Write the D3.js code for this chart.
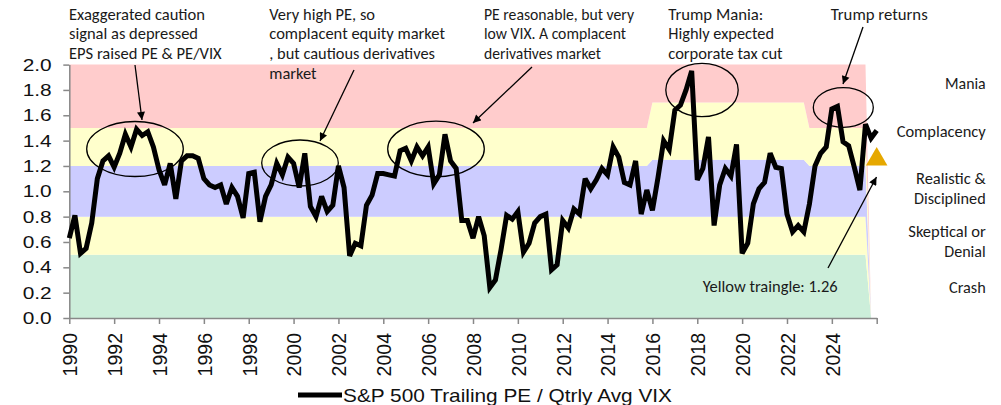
<!DOCTYPE html>
<html><head><meta charset="utf-8">
<script src="https://cdn.jsdelivr.net/npm/d3@7"></script>
<style>body{margin:0;background:#fff}svg{display:block}</style>
</head><body>
<svg id="c" width="1001" height="405"></svg>
<script>
// ---------- DATA ----------
const startYear = 1990;            // first quarter of the series
const quartersPerYear = 4;
const seriesName = "S&P 500 Trailing PE / Qtrly Avg VIX";
const peVix = [
  0.63,0.81,0.51,0.55,0.75,1.10,1.24,1.28,1.19,1.30,
  1.45,1.35,1.49,1.44,1.47,1.35,1.17,1.05,1.22,0.94,
  1.24,1.28,1.28,1.26,1.10,1.05,1.03,1.05,0.90,1.03,
  0.96,0.79,1.14,1.15,0.76,0.96,1.05,1.22,1.13,1.27,
  1.22,1.03,1.30,0.88,0.80,0.96,0.84,0.89,1.20,1.03,
  0.49,0.59,0.57,0.89,0.97,1.14,1.14,1.13,1.12,1.32,
  1.34,1.24,1.35,1.28,1.35,1.06,1.13,1.45,1.24,1.18,
  0.77,0.77,0.63,0.80,0.65,0.24,0.30,0.54,0.81,0.78,
  0.84,0.52,0.59,0.75,0.80,0.82,0.38,0.42,0.77,0.71,
  0.86,0.82,1.10,1.02,1.09,1.18,1.13,1.35,1.27,1.07,
  1.05,1.24,0.82,1.01,0.85,1.11,1.40,1.33,1.64,1.68,
  1.80,1.95,1.09,1.18,1.43,0.73,1.05,1.18,1.12,1.37,
  0.51,0.59,0.90,1.02,1.07,1.30,1.19,1.18,0.82,0.68,
  0.73,0.68,0.90,1.20,1.30,1.35,1.65,1.67,1.39,1.36,
  1.19,1.01,1.53,1.42,1.48
];
const yellowTriangle = 1.26;

// regime bands (upper bound of each band), per regime of quarters
const bandNames = ["Crash","Skeptical or Denial","Realistic & Disciplined","Complacency","Mania"];
const regimeFirstQuarter = [0, 104, 132, 143];
const regimeLastQuarter  = [103, 131, 142, 143];
const crashTop       = [0.5, 0.5, 0.5, 0];
const skepticalTop   = [0.8, 0.8, 0.8, 0];
const realisticTop   = [1.2, 1.25, 1.2, 0];
const complacencyTop = [1.5, 1.7, 1.5, 0];
const maniaTop       = [2.0, 2.0, 2.0, 0];

const yTicks = [0,0.2,0.4,0.6,0.8,1.0,1.2,1.4,1.6,1.8,2.0];
const xTickYears = d3.range(1990, 2027, 2);
const xLabelYears = d3.range(1990, 2025, 2);

// ---------- LAYOUT / STYLE ----------
const bandColors = ["#CCEEDA","#FFFFCC","#CCCCFF","#FFFFCC","#FFCCCC"];
const svg = d3.select("#c");
const x = d3.scaleLinear().domain([1990, 2026]).range([69.3, 876.7]);
const y = d3.scaleLinear().domain([0, 2]).range([318, 64.6]);
const qYear = q => startYear + q / quartersPerYear;
const annFont = "Carlito, Calibri, Lato, sans-serif";
const axFont = "'Liberation Sans', Arial, sans-serif";

// band rows
const bandRows = [];
for (let r = 0; r < regimeFirstQuarter.length; r++) {
  for (let q = regimeFirstQuarter[r]; q <= regimeLastQuarter[r]; q++) {
    const tops = [crashTop[r], skepticalTop[r], realisticTop[r], complacencyTop[r], maniaTop[r]];
    const row = {q};
    bandNames.forEach((n, k) => row[n] = tops[k] - (k ? tops[k-1] : 0));
    bandRows.push(row);
  }
}
const stacked = d3.stack().keys(bandNames)(bandRows);
const area = d3.area().x(d => x(qYear(d.data.q))).y0(d => y(d[0])).y1(d => y(d[1]));
svg.append("g").selectAll("path").data(stacked).join("path")
  .attr("d", area).attr("fill", (d, i) => bandColors[i]);

// axes
const gy = svg.append("g").attr("transform", `translate(${x(1990)},0)`)
  .call(d3.axisLeft(y).tickValues(yTicks).tickFormat(d3.format(".1f")).tickSize(6).tickSizeOuter(0));
gy.select(".domain").attr("stroke", "#888").attr("stroke-width", 1.5);
gy.selectAll(".tick line").attr("stroke", "#888").attr("stroke-width", 1.5);
gy.selectAll(".tick text").attr("x", -17.6).attr("dy", "0.33em")
  .attr("font-family", axFont).attr("font-size", 17).attr("fill", "#111")
  .attr("textLength", 29).attr("lengthAdjust", "spacingAndGlyphs");

const gx = svg.append("g").attr("transform", `translate(0,${y(0)})`)
  .call(d3.axisBottom(x).tickValues(xTickYears).tickFormat(d => xLabelYears.includes(d) ? String(d) : "")
    .tickSize(6).tickSizeOuter(0));
gx.select(".domain").attr("stroke", "#888").attr("stroke-width", 1.5);
gx.selectAll(".tick line").attr("stroke", "#888").attr("stroke-width", 1.5);
gx.selectAll(".tick text").attr("transform", "rotate(-90)").attr("text-anchor", "end")
  .attr("x", -15).attr("y", 0).attr("dy", "0.38em")
  .attr("font-family", axFont).attr("font-size", 19.5).attr("fill", "#111");

// series line
const line = d3.line().x((d, i) => x(qYear(i))).y(d => y(d));
svg.append("path").datum(peVix).attr("d", line).attr("fill", "none")
  .attr("stroke", "#000").attr("stroke-width", 5).attr("stroke-linejoin", "miter").attr("stroke-miterlimit", 3);

// yellow triangle at latest quarter
const lastQ = peVix.length - 1;
svg.append("path").attr("d", d3.symbol().type(d3.symbolTriangle).size(200)())
  .attr("transform", `translate(${x(qYear(lastQ))},${y(yellowTriangle) + 1})`)
  .attr("fill", "#E6A800");

// arrow marker
const defs = svg.append("defs");
defs.append("marker").attr("id", "ah").attr("viewBox", "0 0 10 10").attr("refX", 10).attr("refY", 5)
  .attr("markerWidth", 9).attr("markerHeight", 8).attr("markerUnits", "userSpaceOnUse").attr("orient", "auto")
  .append("path").attr("d", "M0,0 L10,5 L0,10 z").attr("fill", "#000");

// ellipses
const ellipses = [
  {cx:135, cy:149, rx:48.3, ry:27.5},
  {cx:300, cy:163, rx:38.3, ry:23},
  {cx:436, cy:149, rx:48.3, ry:27.8},
  {cx:702, cy:90, rx:36.2, ry:26.7},
  {cx:843.3, cy:107.5, rx:30, ry:19.8}
];
svg.append("g").selectAll("ellipse").data(ellipses).join("ellipse")
  .attr("cx", d => d.cx).attr("cy", d => d.cy).attr("rx", d => d.rx).attr("ry", d => d.ry)
  .attr("fill", "none").attr("stroke", "#000").attr("stroke-width", 1.3);

// arrows
const arrows = [
  [135, 65, 142, 120],
  [354, 70, 320, 141],
  [532, 67, 473, 123],
  [863, 27, 843, 84],
  [828, 268, 876.5, 177]
];
svg.append("g").selectAll("line").data(arrows).join("line")
  .attr("x1", d => d[0]).attr("y1", d => d[1]).attr("x2", d => d[2]).attr("y2", d => d[3])
  .attr("stroke", "#000").attr("stroke-width", 1.3).attr("marker-end", "url(#ah)");

// annotation text
const notes = [
  {x:69,    lines:["Exaggerated caution","signal as depressed","EPS raised PE & PE/VIX"], w:[136,129,152.7]},
  {x:269.3, lines:["Very high PE, so","complacent equity market",", but cautious derivatives","market"], w:[105.7,175.7,165.7,47.3]},
  {x:484,   lines:["PE reasonable, but very","low VIX. A complacent","derivatives market"], w:[150,142,117]},
  {x:668.3, lines:["Trump Mania:","Highly expected","corporate tax cut"], w:[95,105.7,114.3]},
  {x:830.7, lines:["Trump returns"], w:[97]}
];
const noteBase = [19.5, 39.3, 59, 79];
notes.forEach(n => n.lines.forEach((t, i) => {
  svg.append("text").attr("x", n.x).attr("y", noteBase[i]).text(t)
    .attr("font-family", annFont).attr("font-size", 16).attr("fill", "#1a1a1a")
    .attr("textLength", n.w[i]).attr("lengthAdjust", "spacingAndGlyphs");
}));

const sideLabels = [
  {t:"Mania", y:89, w:40.7},
  {t:"Complacency", y:137, w:89},
  {t:"Realistic &", y:184, w:69.7},
  {t:"Disciplined", y:204, w:71.7},
  {t:"Skeptical or", y:236.7, w:77.4},
  {t:"Denial", y:256.7, w:41.4},
  {t:"Crash", y:293.3, w:36.7}
];
sideLabels.forEach(s => svg.append("text").attr("x", 985.7).attr("y", s.y).attr("text-anchor", "end").text(s.t)
  .attr("font-family", annFont).attr("font-size", 16).attr("fill", "#1a1a1a")
  .attr("textLength", s.w).attr("lengthAdjust", "spacingAndGlyphs"));

svg.append("text").attr("x", 702.7).attr("y", 291.7).text("Yellow traingle: " + yellowTriangle.toFixed(2))
  .attr("font-family", annFont).attr("font-size", 16).attr("fill", "#1a1a1a")
  .attr("textLength", 135).attr("lengthAdjust", "spacingAndGlyphs");

// legend
svg.append("line").attr("x1", 298).attr("x2", 342).attr("y1", 395).attr("y2", 395)
  .attr("stroke", "#000").attr("stroke-width", 5);
svg.append("text").attr("x", 343).attr("y", 401.5).text(seriesName)
  .attr("font-family", axFont).attr("font-size", 19).attr("fill", "#111")
  .attr("textLength", 329).attr("lengthAdjust", "spacingAndGlyphs");
</script>
</body></html>
